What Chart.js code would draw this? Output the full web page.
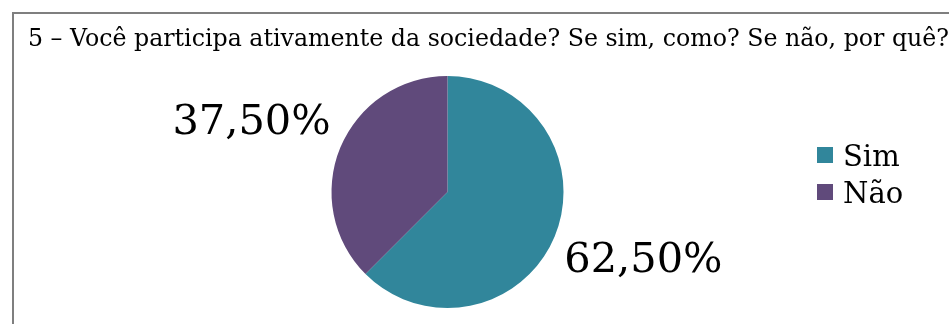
<!DOCTYPE html>
<html lang="pt-BR">
<head>
<meta charset="utf-8">
<title>Você participa ativamente da sociedade?</title>
<script src="https://cdn.jsdelivr.net/npm/chart.js@4.4.0/dist/chart.umd.min.js"></script>
<style>
  html, body { margin: 0; padding: 0; background: #fff; overflow: hidden; }
  #moldura {
    position: absolute; left: 12px; top: 12px;
    width: 1000px; height: 400px;
    border-top: 2px solid #7f7f7f; border-left: 2px solid #7f7f7f;
  }
  #grafico { position: absolute; left: 0; top: 0; }
</style>
</head>
<body>
<div id="moldura"></div>
<canvas id="grafico" width="949" height="324"></canvas>
<script>
// dados do gráfico
const titulo = "5 – Você participa ativamente da sociedade? Se sim, como? Se não, por quê?";
const categorias = ["Sim", "Não"];
const percentuais = [62.5, 37.5];
const cores = ["#31869b", "#604a7b"];

const fonte = "'DejaVu Serif', serif";

// título e legenda desenhados à mão
const tituloPlugin = {
  id: "tituloPlugin",
  afterDraw(chart) {
    const ctx = chart.ctx;
    ctx.save();
    ctx.fillStyle = "#000";
    ctx.font = "23.7px " + fonte;
    ctx.textBaseline = "alphabetic";
    ctx.textAlign = "left";
    ctx.fillText(titulo, 28, 46);

    // legenda
    ctx.font = "29px " + fonte;
    chart.data.labels.forEach((rotulo, i) => {
      ctx.fillStyle = chart.data.datasets[0].backgroundColor[i];
      ctx.fillRect(817, 147 + i * 37, 16, 16);
      ctx.fillStyle = "#000";
      ctx.fillText(rotulo, 843, 166 + i * 37);
    });
    ctx.restore();
  }
};

// rótulos de porcentagem fora das fatias
const rotulosPlugin = {
  id: "rotulosPlugin",
  afterDatasetsDraw(chart) {
    const ctx = chart.ctx;
    const meta = chart.getDatasetMeta(0);
    ctx.save();
    ctx.fillStyle = "#000";
    ctx.font = "41.5px " + fonte;
    meta.data.forEach((arco, i) => {
      const p = arco.getProps(["x", "y", "startAngle", "endAngle", "outerRadius"], true);
      const meio = (p.startAngle + p.endAngle) / 2;
      const d = p.outerRadius * 1.09;
      const x = p.x + Math.cos(meio) * d;
      const y = p.y + Math.sin(meio) * d;
      const texto = percentuais[i].toFixed(2).replace(".", ",") + "%";
      ctx.textAlign = Math.cos(meio) < 0 ? "right" : "left";
      ctx.textBaseline = Math.sin(meio) < 0 ? "bottom" : "top";
      ctx.fillText(texto, x, y);
    });
    ctx.restore();
  }
};

new Chart(document.getElementById("grafico"), {
  type: "pie",
  data: {
    labels: categorias,
    datasets: [{
      data: percentuais,
      backgroundColor: cores,
      borderWidth: 0,
      hoverOffset: 0
    }]
  },
  options: {
    responsive: false,
    animation: false,
    layout: { padding: { top: 76, bottom: 16, left: 0, right: 54 } },
    plugins: {
      legend: { display: false },
      tooltip: { enabled: false },
      title: { display: false }
    }
  },
  plugins: [rotulosPlugin, tituloPlugin]
});
</script>
</body>
</html>
